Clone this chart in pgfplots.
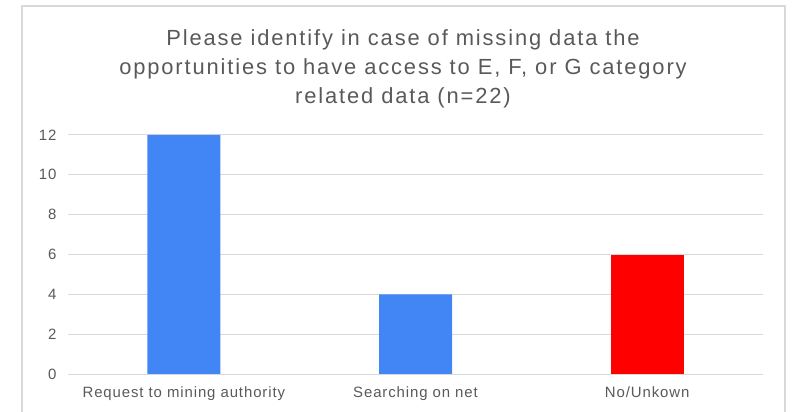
\documentclass[border=0pt]{standalone}
\usepackage{pgfplots}
\pgfplotsset{compat=1.18}
\usepackage{fontspec}
\setmainfont{Liberation Sans}
\newfontfamily\titlefont[LetterSpace=8.5]{Liberation Sans}
\newfontfamily\tickfont[LetterSpace=6]{Liberation Sans}
\definecolor{barblue}{HTML}{4285F4}
\definecolor{barred}{HTML}{FF0000}
\definecolor{gridgray}{HTML}{D9D9D9}
\definecolor{txtgray}{HTML}{595959}
\begin{document}
\begin{tikzpicture}[x=1bp,y=1bp]
\path[use as bounding box] (0,0) rectangle (792,411);
\draw[gridgray, line width=1.2bp] (22,-10) rectangle (785,405);
\node[align=center, text=txtgray, font=\titlefont\fontsize{22}{29}\selectfont, anchor=base] at (403,308)
  {Please identify in case of missing data the\\opportunities to have access to E, F, or G category\\related data (n=22)};
\begin{axis}[
  at={(68bp,37bp)}, anchor=south west,
  scale only axis, width=695bp, height=239bp,
  ymin=0, ymax=12, ytick={0,2,...,12},
  xmin=-0.5, xmax=2.5, xtick={0,1,2},
  xticklabels={Request to mining authority, Searching on net, No/Unkown},
  axis line style={draw=none},
  ymajorgrids, grid style={gridgray, line width=1bp},
  major tick length=0pt,
  tick label style={text=txtgray, font=\tickfont\fontsize{15}{17}\selectfont},
  /pgf/number format/assume math mode=true,
  yticklabel style={xshift=-8bp},
  xticklabel style={yshift=-9bp},
  ybar, bar width=73bp, bar shift=0pt,
  clip=false,
]
\addplot[fill=barblue, draw=none] coordinates {(0,12) (1,4)};
\addplot[fill=barred, draw=none] coordinates {(2,6)};
\draw[gridgray, line width=1bp] (axis cs:-0.5,0) -- (axis cs:2.5,0);
\end{axis}
\end{tikzpicture}
\end{document}
